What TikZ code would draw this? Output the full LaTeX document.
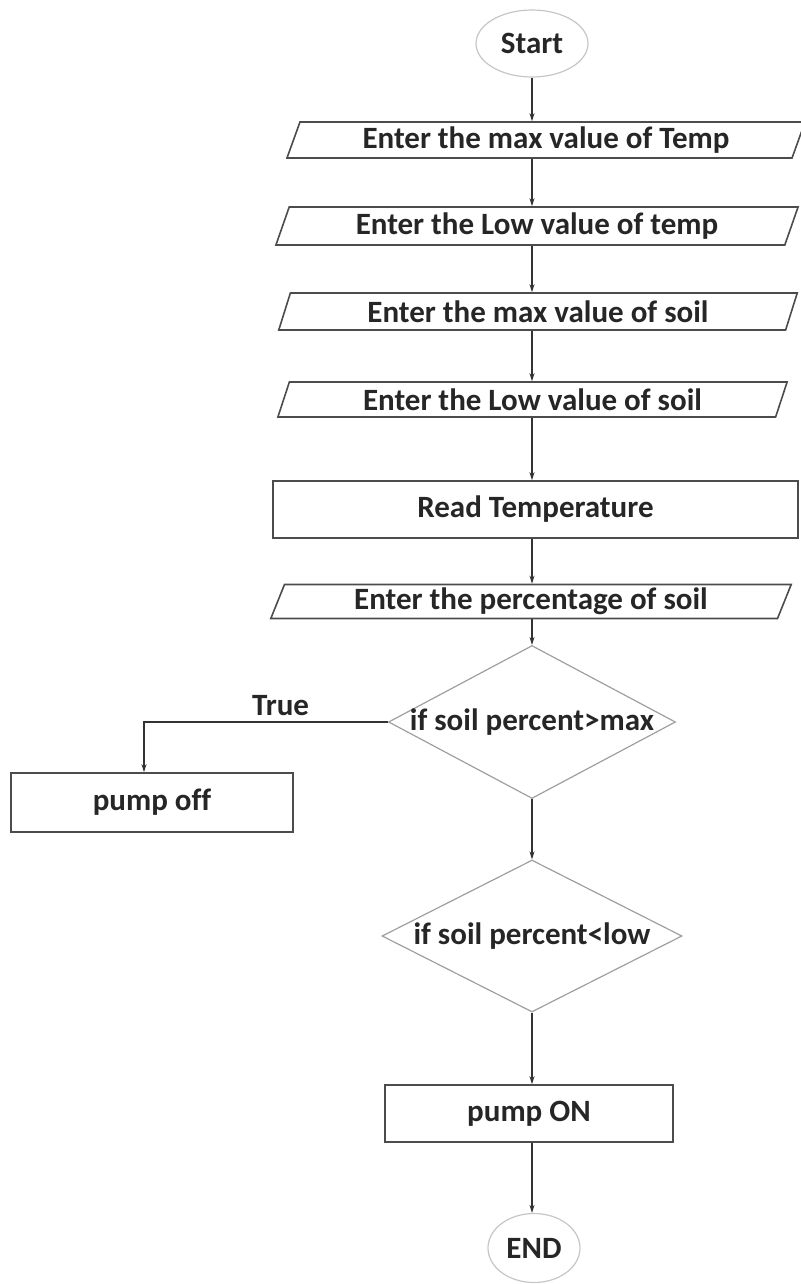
\documentclass[tikz,border=0pt]{standalone}
\usepackage{fontspec}
\setmainfont{Carlito}[Ligatures=NoCommon]
\usepackage{tikz}
\usetikzlibrary{shapes.geometric,arrows.meta}

\begin{document}
\begin{tikzpicture}[x=1pt, y=-1pt,
  font=\fontsize{31}{37}\selectfont\bfseries, text=black!85,
  terminal/.style={ellipse, draw=gray!45, line width=1.2pt, inner sep=0pt},
  inputbox/.style={trapezium, trapezium left angle=70, trapezium right angle=110,
    trapezium stretches=true, draw=black!70, line width=1.6pt, inner sep=0pt},
  procbox/.style={rectangle, draw=black!70, line width=1.6pt, inner sep=0pt},
  decision/.style={diamond, draw=gray!75, line width=1.2pt, inner sep=0pt},
  flow/.style={draw=black!80, line width=1.1pt, -{Stealth[length=8pt,width=5pt]}}]
\useasboundingbox (0,0) rectangle (800,1284);

% Start and inputs
\node[terminal, minimum width=112, minimum height=67] (start) at (532,43.5) {Start};
\node[inputbox, minimum width=520, minimum height=36] (maxtemp) at (546,140) {Enter the max value of Temp};
\node[inputbox, minimum width=524, minimum height=38] (lowtemp) at (537,226) {Enter the Low value of temp};
\node[inputbox, minimum width=520, minimum height=37] (maxsoil) at (538,311.5) {Enter the max value of soil};
\node[inputbox, minimum width=511, minimum height=35] (lowsoil) at (532.5,399.5) {Enter the Low value of soil};

% Reading
\node[procbox, minimum width=525, minimum height=57] (readtemp) at (535.5,509.5) {Read Temperature};
\node[inputbox, minimum width=522, minimum height=34] (soilpct) at (531,601.5) {Enter the percentage of soil};

% Decisions
\node[decision, minimum width=287, minimum height=153,
  label={center:if soil percent>max}] (ifmax) at (532,722) {};
\node[decision, minimum width=300, minimum height=152,
  label={center:if soil percent<low}] (iflow) at (532,936) {};

% Pump states
\node[procbox, minimum width=282, minimum height=59] (pumpoff) at (152,802.5) {pump off};
\node[procbox, minimum width=288, minimum height=57] (pumpon) at (529,1113.5) {pump ON};
\node[terminal, minimum width=92, minimum height=69] (finish) at (534,1248) {END};

% Arrows
\draw[flow] (start.south) -- (start.south |- maxtemp.north);
\draw[flow] (start.south |- maxtemp.south) -- (start.south |- lowtemp.north);
\draw[flow] (start.south |- lowtemp.south) -- (start.south |- maxsoil.north);
\draw[flow] (start.south |- maxsoil.south) -- (start.south |- lowsoil.north);
\draw[flow] (start.south |- lowsoil.south) -- (start.south |- readtemp.north);
\draw[flow] (start.south |- readtemp.south) -- (start.south |- soilpct.north);
\draw[flow] (start.south |- soilpct.south) -- (ifmax.north);
\draw[flow] (ifmax.west) -| node[pos=0.22, above=2pt] {True} ([xshift=-8]pumpoff.north);
\draw[flow] (ifmax.south) -- (iflow.north);
\draw[flow] (iflow.south) -- (iflow.south |- pumpon.north);
\draw[flow] (iflow.south |- pumpon.south) -- (iflow.south |- finish.north);

\end{tikzpicture}
\end{document}
